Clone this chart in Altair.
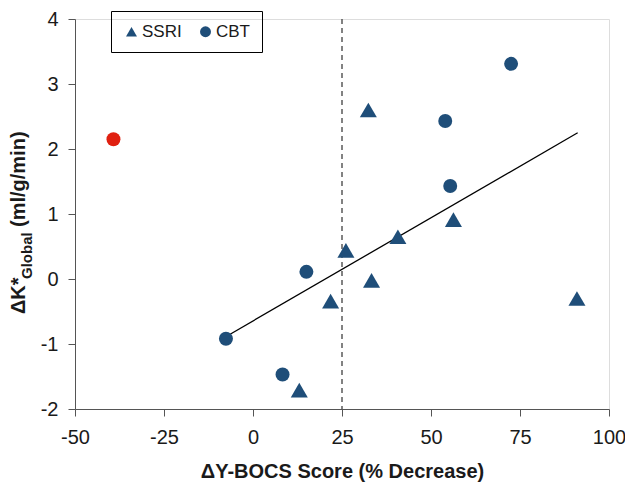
import altair as alt
import pandas as pd

# ---- data ----
ssri_x = [13.0, 21.8, 26.1, 33.3, 32.4, 40.7, 56.3, 91.0]
ssri_y = [-1.71, -0.34, 0.44, -0.02, 2.60, 0.65, 0.915, -0.30]
cbt_x = [-7.6, 8.3, 15.0, 54.0, 55.4, 72.5]
cbt_y = [-0.92, -1.47, 0.11, 2.43, 1.43, 3.31]
outlier_x = [-39.2]
outlier_y = [2.15]
fit_x = [-7.4, 91.2]
fit_y = [-0.88, 2.25]
threshold_x = [25]
x_ticks = [-50, -25, 0, 25, 50, 75, 100]
y_ticks = [-2, -1, 0, 1, 2, 3, 4]
groups = ["SSRI", "CBT"]

BLUE = "#1F4E79"
RED = "#E02010"
FONT = "Liberation Sans"
INK = "#1a1a1a"

ssri = pd.DataFrame({"x": ssri_x, "y": ssri_y, "group": ["SSRI"] * len(ssri_x)})
cbt = pd.DataFrame({"x": cbt_x, "y": cbt_y, "group": ["CBT"] * len(cbt_x)})
out = pd.DataFrame({"x": outlier_x, "y": outlier_y})
fit = pd.DataFrame({"x": fit_x, "y": fit_y})
thr = pd.DataFrame({"x": threshold_x})
one = pd.DataFrame({"a": [0]})

xs = alt.Scale(domain=[-50, 100], nice=False, zero=False)
ys = alt.Scale(domain=[-2, 4], nice=False, zero=False)

xaxis = alt.Axis(values=x_ticks, title="ΔY-BOCS Score (% Decrease)", grid=False,
                 tickSize=7, labelPadding=11, titlePadding=14,
                 labelFontSize=20, titleFontSize=20, titleFontWeight="bold",
                 labelFont=FONT, titleFont=FONT, labelColor=INK, titleColor=INK,
                 domainColor="#555555", tickColor="#555555", labelFlush=False,
                 labelExpr="'' + datum.value")
yaxis = alt.Axis(values=y_ticks, title=None, grid=False, tickSize=7, labelPadding=10,
                 labelFontSize=20, labelFont=FONT, labelColor=INK,
                 domainColor="#555555", tickColor="#555555", labelFlush=False,
                 labelExpr="'' + datum.value")

X = alt.X("x:Q", scale=xs, axis=xaxis)
Y = alt.Y("y:Q", scale=ys, axis=yaxis)

shape_enc = alt.Shape(
    "group:N",
    scale=alt.Scale(domain=groups, range=["triangle-up", "circle"]),
    legend=alt.Legend(title=None, orient="none", legendX=36, legendY=-8,
                      direction="horizontal", strokeColor="black",
                      padding=12, labelFontSize=17, labelFont=FONT,
                      labelColor=INK, symbolSize=120,
                      symbolFillColor=BLUE, symbolStrokeColor=BLUE, symbolStrokeWidth=0,
                      columnPadding=15, labelOffset=2),
)

thr_rule = alt.Chart(thr).mark_rule(strokeDash=[5, 4], color="#404040", strokeWidth=1.3).encode(x=X)

fit_line = alt.Chart(fit).mark_line(color="black", strokeWidth=1.3).encode(x=X, y=Y)

tri = alt.Chart(ssri).mark_point(filled=True, opacity=1, size=290, strokeWidth=0, color=BLUE).encode(
    x=X, y=Y, shape=shape_enc)
circ = alt.Chart(cbt).mark_point(filled=True, opacity=1, size=195, strokeWidth=0, color=BLUE).encode(
    x=X, y=Y, shape=shape_enc)

outlier = alt.Chart(out).mark_point(filled=True, opacity=1, shape="circle", size=195,
                                    strokeWidth=0, color=RED).encode(x=X, y=Y)

# y-axis title with subscript, built from text pieces
t1 = alt.Chart(one).mark_text(text="ΔK*", angle=270, align="left", baseline="alphabetic",
                              font=FONT, fontSize=20, fontWeight="bold", color=INK).encode(
    x=alt.value(-50), y=alt.value(295))
t2 = alt.Chart(one).mark_text(text="Global", angle=270, align="left", baseline="alphabetic",
                              font=FONT, fontSize=15, fontWeight="bold", color=INK).encode(
    x=alt.value(-43), y=alt.value(260))
t3 = alt.Chart(one).mark_text(text="(ml/g/min)", angle=270, align="left", baseline="alphabetic",
                              font=FONT, fontSize=20, fontWeight="bold", color=INK).encode(
    x=alt.value(-50), y=alt.value(208))

chart = alt.layer(thr_rule, fit_line, tri, circ, outlier, t1, t2, t3).properties(
    width=534, height=390,
    autosize=alt.AutoSizeParams(type="none"),
    padding={"left": 67, "top": 11, "right": 16, "bottom": 77},
).configure_view(stroke=None).configure(background="white")

chart.save("out.html", embed_options={"renderer": "svg", "actions": False})
